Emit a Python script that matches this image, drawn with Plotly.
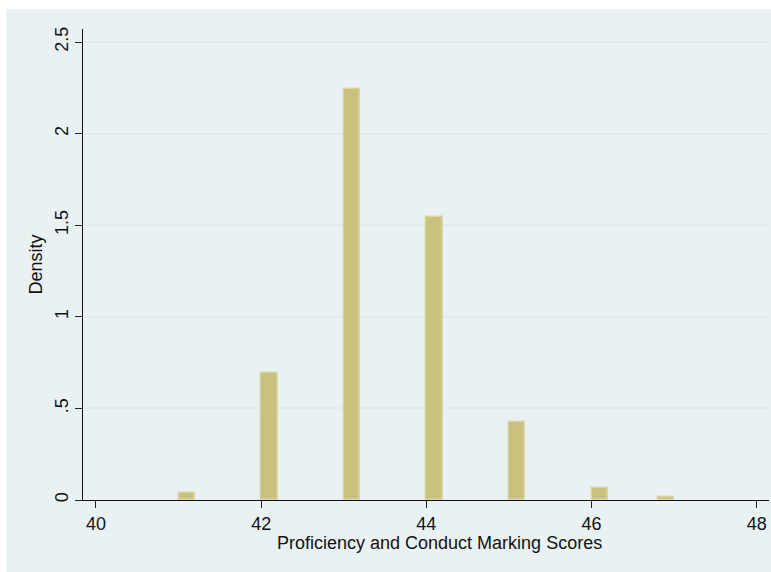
import plotly.graph_objects as go

# Histogram bins (left edge of each bar) and their densities
bin_left = [41.0, 42.0, 43.0, 44.0, 45.0, 46.0, 46.8]
density = [0.036, 0.695, 2.243, 1.546, 0.426, 0.065, 0.016]
bin_width = 0.2

x_ticks = [40, 42, 44, 46, 48]
y_ticks = [0, 0.5, 1, 1.5, 2, 2.5]
y_tick_text = ["0", ".5", "1", "1.5", "2", "2.5"]

font_family = "Liberation Sans, Arial, Helvetica, sans-serif"

fig = go.Figure()
fig.add_trace(go.Bar(
    x=[b + bin_width / 2 for b in bin_left],
    y=density,
    width=bin_width,
    marker=dict(color="#C9C27F", line=dict(color="#DAD5A2", width=1.5)),
    hoverinfo="x+y",
))

# Light bluish graph region behind the white plot region
fig.add_shape(
    type="rect", xref="paper", yref="paper",
    x0=-0.1122, x1=1.01, y0=-0.16, y1=1.0425,
    fillcolor="#EAF1F3", line=dict(width=0), layer="below",
)

# x-axis title, centred on the whole graph region
fig.add_annotation(
    text="Proficiency and Conduct Marking Scores",
    xref="paper", yref="paper", x=0.519, y=-0.0913,
    xanchor="center", yanchor="middle", showarrow=False,
    font=dict(size=18),
)

fig.update_layout(
    width=771, height=572,
    margin=dict(l=83, r=2, t=29, b=72),
    paper_bgcolor="white",
    plot_bgcolor="white",
    showlegend=False,
    bargap=0,
    font=dict(family=font_family, size=18, color="#111111"),
)

fig.update_xaxes(
    range=[39.843, 48.149],
    tickvals=x_ticks,
    ticks="outside", ticklen=7, tickwidth=1.2, tickcolor="#222222",
    showline=True, linecolor="#111111", linewidth=1.3,
    showgrid=False, zeroline=False,
    tickfont=dict(size=18),
)

fig.update_yaxes(
    range=[0, 2.571],
    tickvals=y_ticks, ticktext=y_tick_text,
    tickangle=-90,
    ticks="outside", ticklen=7, tickwidth=1.2, tickcolor="#222222",
    showline=True, linecolor="#111111", linewidth=1.3,
    showgrid=True, gridcolor="#E2EAEF", gridwidth=1.5,
    zeroline=False,
    tickfont=dict(size=18),
    title=dict(text="Density", font=dict(size=18), standoff=4),
)

fig.write_html("out.html")
